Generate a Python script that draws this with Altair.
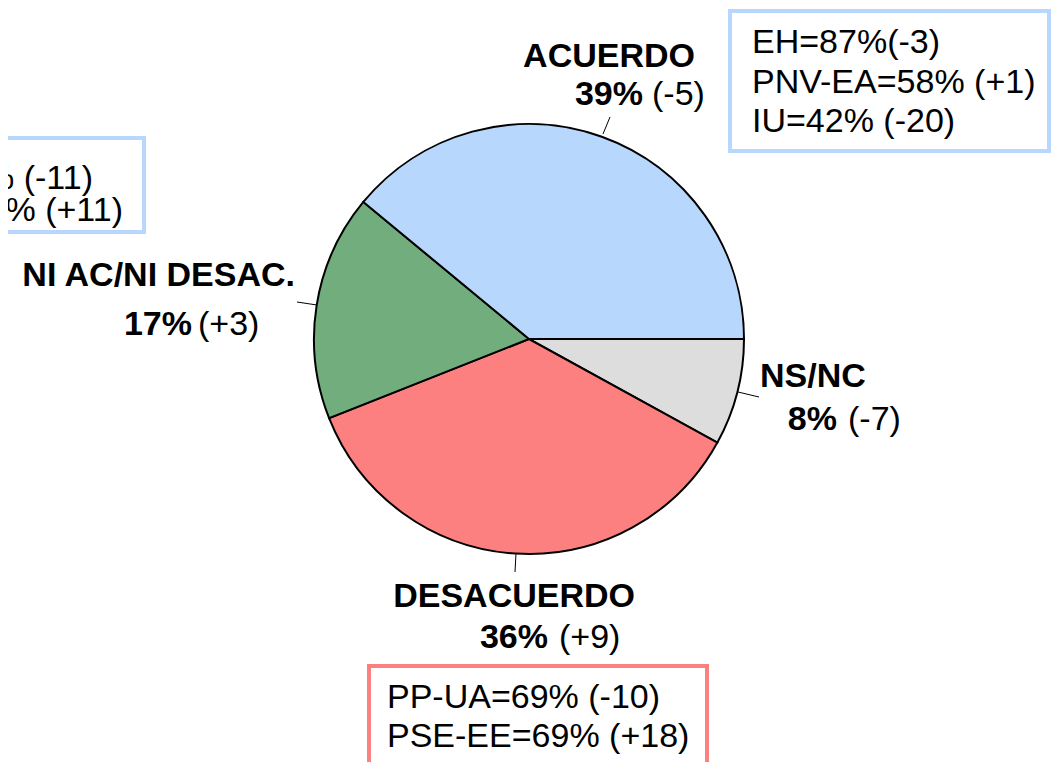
import math
import altair as alt
import pandas as pd

# ---- data ----
categories = ["NS/NC", "DESACUERDO", "NI AC/NI DESAC.", "ACUERDO"]
values = [8, 36, 17, 39]
colors = ["#dddddd", "#fd8080", "#72ad7e", "#b8d7fc"]

pct_labels = ["8%", "36%", "17%", "39%"]
change_labels = ["(-7)", "(+9)", "(+3)", "(-5)"]

box_right_lines = ["EH=87%(-3)", "PNV-EA=58% (+1)", "IU=42% (-20)"]
box_bottom_lines = ["PP-UA=69% (-10)", "PSE-EE=69% (+18)"]
box_left_lines = ["% (-11)", "8% (+11)"]

FONT = "Liberation Sans"
W, H = 1045, 754
xs = alt.Scale(domain=[8, 8 + W], range=[0, W])
ys = alt.Scale(domain=[8, 8 + H], range=[0, H])

pie_df = pd.DataFrame({"cat": categories, "val": values, "ord": list(range(len(categories)))})

pie = alt.Chart(pie_df).mark_arc(outerRadius=215, stroke="black", strokeWidth=2).encode(
    theta=alt.Theta("val:Q", stack=True,
                    scale=alt.Scale(range=[math.pi / 2, math.pi / 2 + 2 * math.pi])),
    order=alt.Order("ord:Q"),
    color=alt.Color("cat:N", scale=alt.Scale(domain=categories, range=colors), legend=None),
    x=alt.value(521),
    y=alt.value(331),
)

# leader lines (page coordinates)
lead_df = pd.DataFrame({
    "x": [610, 738, 297, 516],
    "y": [117, 392, 302, 553],
    "x2": [603, 759, 317, 515],
    "y2": [134, 397, 305, 572],
})
leaders = alt.Chart(lead_df).mark_rule(color="black", strokeWidth=1).encode(
    x=alt.X("x:Q", scale=xs, axis=None),
    y=alt.Y("y:Q", scale=ys, axis=None),
    x2="x2:Q", y2="y2:Q",
)

# boxes
box_df = pd.DataFrame({
    "x": [730, -20, 369],
    "x2": [1049, 144, 707],
    "y": [11, 138, 666],
    "y2": [151, 232, 800],
    "c": ["#b8d7fc", "#b8d7fc", "#fd8080"],
})
boxes = alt.Chart(box_df).mark_rect(fill="white", strokeWidth=4, clip=True).encode(
    x=alt.X("x:Q", scale=xs, axis=None),
    y=alt.Y("y:Q", scale=ys, axis=None),
    x2="x2:Q", y2="y2:Q",
    stroke=alt.Stroke("c:N", scale=None),
)

# text labels
bold_df = pd.DataFrame({
    "t": ["ACUERDO", pct_labels[3], "NI AC/NI DESAC.", pct_labels[2], "NS/NC", pct_labels[0],
          "DESACUERDO", pct_labels[1]],
    "x": [695, 643, 295, 192, 760, 837, 635, 548],
    "y": [67, 105, 286, 335, 387, 430, 607, 648],
    "a": ["right", "right", "right", "right", "left", "right", "right", "right"],
})
reg_df = pd.DataFrame({
    "t": [change_labels[3], change_labels[2], change_labels[0], change_labels[1]]
         + box_right_lines + box_bottom_lines + box_left_lines,
    "x": [652, 198, 848, 559, 752, 752, 752, 387, 387, 93, 123],
    "y": [105, 335, 430, 648, 53, 93, 132, 708, 747, 189, 221],
    "a": ["left"] * 9 + ["right", "right"],
})


def text_layer(df, weight, align):
    return alt.Chart(df[df["a"] == align]).mark_text(
        font=FONT, fontSize=34, fontWeight=weight, align=align,
        baseline="alphabetic", color="black",
    ).encode(
        x=alt.X("x:Q", scale=xs, axis=None),
        y=alt.Y("y:Q", scale=ys, axis=None),
        text="t:N",
    )


chart = alt.layer(
    boxes, pie, leaders,
    text_layer(bold_df, "bold", "right"), text_layer(bold_df, "bold", "left"),
    text_layer(reg_df, "normal", "left"), text_layer(reg_df, "normal", "right"),
).properties(
    width=W, height=H, padding=0, autosize=alt.AutoSizeParams(type="none"),
    background="white",
).configure_view(stroke=None)

chart.save("out.html", embed_options={"renderer": "svg", "actions": False})
